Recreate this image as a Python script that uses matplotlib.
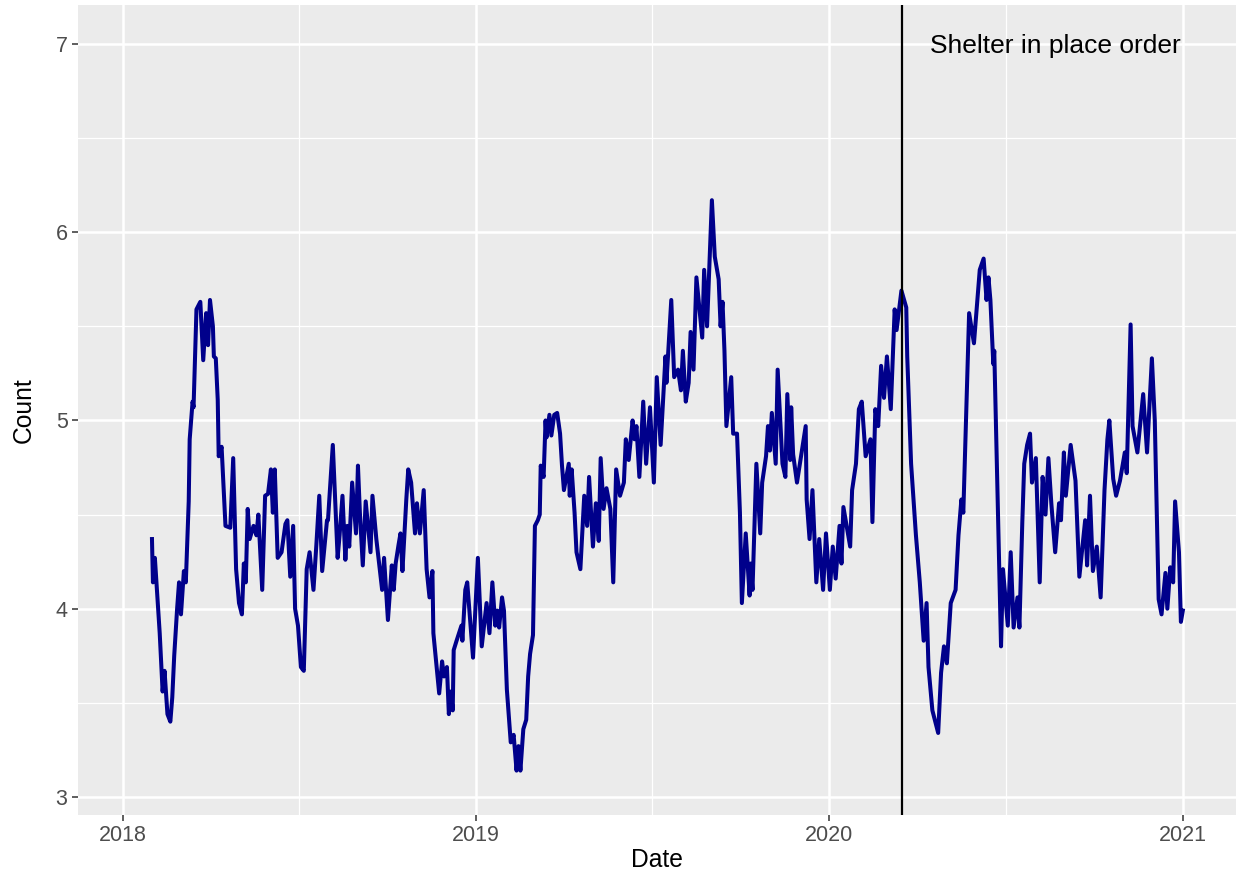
import matplotlib
matplotlib.use("Agg")
import matplotlib.pyplot as plt
import pandas as pd

# Days since 2018-01-01 and the plotted count values
day_offsets = [
    30, 31, 33, 38, 41, 43, 46, 49, 51, 53, 56, 58, 60, 63, 65, 68, 69, 72, 73, 76,
    80, 83, 86, 88, 90, 93, 94, 96, 98, 99, 102, 106, 111, 114, 117, 120, 123, 125, 127, 129,
    131, 135, 138, 140, 144, 147, 150, 153, 155, 157, 160, 164, 168, 170, 173, 176, 178, 181, 184, 187,
    190, 193, 197, 200, 203, 206, 211, 212, 217, 222, 224, 227, 230, 232, 234, 237, 241, 243, 245, 248,
    251, 256, 258, 262, 264, 268, 270, 274, 278, 280, 282, 285, 287, 289, 293, 295, 298, 302, 304, 307,
    311, 314, 317, 320, 321, 327, 330, 332, 335, 337, 339, 341, 342, 345, 350, 351, 354, 356, 362, 367,
    371, 376, 379, 382, 385, 387, 389, 392, 394, 397, 399, 401, 404, 407, 409, 411, 414, 417, 419, 421,
    424, 426, 429, 431, 432, 435, 437, 438, 441, 443, 446, 449, 452, 454, 456, 461, 462, 464, 467, 469,
    473, 477, 480, 482, 486, 489, 492, 494, 497, 500, 504, 507, 510, 514, 518, 520, 523, 527, 529, 531,
    534, 538, 541, 545, 549, 552, 556, 561, 562, 567, 570, 574, 577, 579, 582, 585, 587, 590, 593, 596,
    599, 601, 604, 609, 612, 616, 618, 620, 622, 624, 629, 631, 635, 638, 640, 644, 648, 649, 651, 655,
    659, 661, 665, 667, 669, 671, 675, 677, 682, 685, 687, 690, 691, 693, 697, 700, 706, 707, 710, 713,
    717, 720, 724, 727, 731, 734, 737, 741, 743, 745, 752, 754, 758, 761, 764, 768, 773, 775, 778, 781,
    784, 787, 790, 794, 798, 800, 805, 810, 811, 815, 820, 824, 828, 831, 833, 837, 843, 846, 849, 852,
    856, 861, 864, 867, 869, 875, 880, 886, 890, 893, 895, 897, 900, 901, 908, 910, 915, 918, 921, 925,
    927, 930, 932, 935, 938, 940, 944, 948, 951, 954, 957, 960, 964, 968, 970, 973, 975, 980, 985, 989,
    995, 997, 1000, 1003, 1007, 1011, 1015, 1018, 1020, 1024, 1027, 1031, 1036, 1038, 1042, 1044, 1049, 1053, 1055, 1059,
    1064, 1067, 1071, 1074, 1078, 1080, 1083, 1086, 1088, 1092, 1094, 1096,
]
counts = [
    4.37, 4.14, 4.27, 3.87, 3.56, 3.67, 3.44, 3.40, 3.53, 3.75, 4.00, 4.14, 3.97, 4.20, 4.14, 4.57, 4.90, 5.10, 5.07, 5.59,
    5.63, 5.32, 5.57, 5.40, 5.64, 5.50, 5.34, 5.33, 5.11, 4.81, 4.86, 4.44, 4.43, 4.80, 4.21, 4.03, 3.97, 4.24, 4.14, 4.53,
    4.37, 4.44, 4.39, 4.50, 4.10, 4.60, 4.61, 4.74, 4.51, 4.74, 4.27, 4.30, 4.45, 4.47, 4.17, 4.44, 4.00, 3.91, 3.69, 3.67,
    4.21, 4.30, 4.10, 4.34, 4.60, 4.20, 4.47, 4.47, 4.87, 4.27, 4.39, 4.60, 4.26, 4.44, 4.33, 4.67, 4.40, 4.76, 4.51, 4.23,
    4.57, 4.30, 4.60, 4.37, 4.28, 4.10, 4.27, 3.94, 4.23, 4.10, 4.24, 4.34, 4.40, 4.20, 4.58, 4.74, 4.67, 4.40, 4.56, 4.40,
    4.63, 4.21, 4.06, 4.20, 3.87, 3.55, 3.72, 3.64, 3.69, 3.44, 3.56, 3.46, 3.78, 3.83, 3.91, 3.83, 4.10, 4.14, 3.74, 4.27,
    3.80, 4.03, 3.87, 4.14, 3.91, 3.99, 3.90, 4.06, 3.99, 3.57, 3.43, 3.29, 3.33, 3.14, 3.27, 3.14, 3.36, 3.41, 3.64, 3.76,
    3.86, 4.44, 4.47, 4.50, 4.76, 4.70, 5.00, 4.91, 5.03, 4.92, 5.03, 5.04, 4.93, 4.76, 4.63, 4.77, 4.60, 4.74, 4.51, 4.30,
    4.21, 4.60, 4.44, 4.70, 4.33, 4.56, 4.36, 4.80, 4.53, 4.64, 4.53, 4.14, 4.74, 4.60, 4.67, 4.90, 4.79, 5.00, 4.90, 4.97,
    4.70, 5.10, 4.77, 5.07, 4.67, 5.23, 4.87, 5.34, 5.20, 5.64, 5.23, 5.27, 5.16, 5.37, 5.10, 5.20, 5.47, 5.27, 5.76, 5.60,
    5.44, 5.80, 5.50, 6.17, 5.87, 5.75, 5.50, 5.63, 5.37, 4.97, 5.23, 4.93, 4.93, 4.51, 4.03, 4.40, 4.07, 4.24, 4.10, 4.77,
    4.40, 4.67, 4.81, 4.97, 4.84, 5.04, 4.77, 5.27, 4.77, 4.70, 5.14, 4.79, 5.07, 4.82, 4.67, 4.77, 4.97, 4.58, 4.37, 4.63,
    4.14, 4.37, 4.10, 4.40, 4.10, 4.33, 4.16, 4.44, 4.24, 4.54, 4.33, 4.63, 4.77, 5.06, 5.10, 4.81, 4.90, 4.46, 5.06, 4.97,
    5.29, 5.12, 5.34, 5.06, 5.59, 5.48, 5.69, 5.60, 5.34, 4.77, 4.39, 4.14, 3.83, 4.03, 3.69, 3.46, 3.34, 3.66, 3.80, 3.71,
    4.03, 4.10, 4.39, 4.58, 4.51, 5.57, 5.41, 5.80, 5.86, 5.64, 5.76, 5.64, 5.30, 5.37, 3.80, 4.21, 3.91, 4.30, 3.90, 4.06,
    3.90, 4.46, 4.77, 4.87, 4.93, 4.67, 4.80, 4.14, 4.70, 4.50, 4.80, 4.56, 4.30, 4.56, 4.47, 4.83, 4.60, 4.87, 4.68, 4.17,
    4.47, 4.23, 4.60, 4.20, 4.33, 4.06, 4.63, 4.90, 5.00, 4.69, 4.60, 4.68, 4.83, 4.72, 5.51, 4.97, 4.83, 5.04, 5.14, 4.83,
    5.33, 5.00, 4.05, 3.97, 4.19, 4.00, 4.22, 4.14, 4.57, 4.30, 3.93, 3.99,
]

start_date = "2018-01-01"
event_date = "2020-03-17"
event_label = "Shelter in place order"
x_label = "Date"
y_label = "Count"
y_ticks = [3, 4, 5, 6, 7]
y_minor = [3.5, 4.5, 5.5, 6.5]
year_ticks = ["2018-01-01", "2019-01-01", "2020-01-01", "2021-01-01"]
year_labels = ["2018", "2019", "2020", "2021"]
minor_x = ["2018-07-02", "2019-07-02", "2020-07-02"]

dates = pd.Timestamp(start_date) + pd.to_timedelta(day_offsets, unit="D")

plt.rcParams['font.family'] = ['Liberation Sans', 'DejaVu Sans']

fig = plt.figure(figsize=(12.38, 8.73), dpi=100)
ax = fig.add_axes([0.063, 0.0664, 0.9354, 0.9279])
ax.set_facecolor("#EBEBEB")

# grid
for v in y_minor:
    ax.axhline(v, color="white", lw=0.9, zorder=0)
for v in y_ticks:
    ax.axhline(v, color="white", lw=1.8, zorder=0)
for d in minor_x:
    ax.axvline(pd.Timestamp(d), color="white", lw=0.9, zorder=0)
for d in year_ticks:
    ax.axvline(pd.Timestamp(d), color="white", lw=1.8, zorder=0)

ax.plot(dates, counts, color="#00008B", lw=2.9, zorder=3, solid_joinstyle="round")
ax.axvline(pd.Timestamp(event_date), color="black", lw=1.6, zorder=4)
ax.text(pd.Timestamp(event_date) + pd.Timedelta(days=29), 6.99, event_label,
        fontsize=19, color="black", ha="left", va="center", zorder=5)

ax.set_ylim(2.904, 7.207)
ax.set_xlim(pd.Timestamp("2018-01-01") - pd.Timedelta(days=46.5),
            pd.Timestamp("2021-01-01") + pd.Timedelta(days=55))
ax.set_yticks(y_ticks)
ax.set_yticklabels([str(v) for v in y_ticks])
ax.set_xticks([pd.Timestamp(d) for d in year_ticks])
ax.set_xticklabels(year_labels)
ax.tick_params(axis="both", colors="#333333", length=4.5, width=1.1, labelsize=15.5,
               labelcolor="#4D4D4D", pad=3)
for s in ax.spines.values():
    s.set_visible(False)
ax.set_xlabel(x_label, fontsize=17.7, color="black")
ax.set_ylabel(y_label, fontsize=17.7, color="black")
ax.xaxis.set_label_coords(0.5, -0.0556)
ax.xaxis.label.set_va("center")
ax.yaxis.set_label_coords(-0.0466, 0.5)
ax.yaxis.label.set_va("center")

fig.savefig("out.png", dpi=100, facecolor="white")
